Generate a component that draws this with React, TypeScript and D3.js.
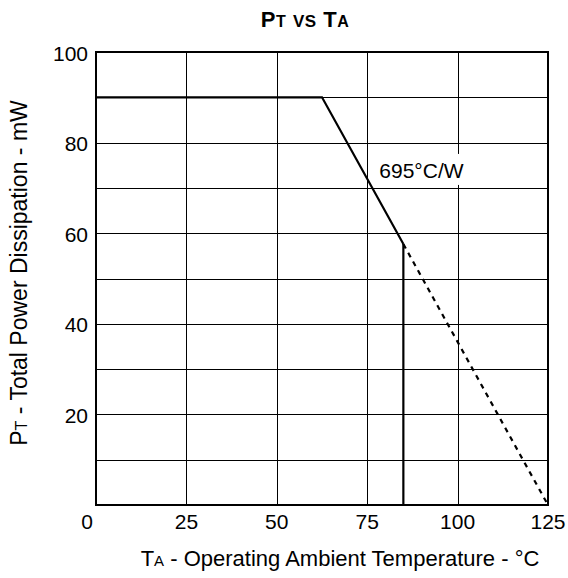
import { useEffect, useRef } from 'react';
import * as d3 from 'd3';

// derating curve: TA (°C) vs PT (mW)
const curveTemps = [0, 62.5, 85];
const curvePower = [90, 90, 57.6];
const dashTemps = [85, 125];
const dashPower = [57.6, 0];
const cutoffTemp = 85;

const xTicks = [0, 25, 50, 75, 100, 125];
const yTicks = [20, 40, 60, 80, 100];
const xGrid = [25, 50, 75, 100];
const yGrid = [10, 20, 30, 40, 50, 60, 70, 80, 90];

const W = 568;
const H = 578;
const FONT = '"Liberation Sans", Arial, sans-serif';

export default function App() {
  const svgRef = useRef<SVGSVGElement>(null);

  useEffect(() => {
    if (!svgRef.current) return;
    const margin = { top: 52, right: 20, bottom: 73, left: 96 };
    const w = W - margin.left - margin.right;
    const h = H - margin.top - margin.bottom;

    const svg = d3.select(svgRef.current);
    svg.selectAll('*').remove();

    const g = svg.append('g').attr('transform', `translate(${margin.left},${margin.top})`);
    const x = d3.scaleLinear().domain([0, 125]).range([0, w]);
    const y = d3.scaleLinear().domain([0, 100]).range([h, 0]);

    // Grid
    g.append('g')
      .selectAll('line')
      .data(yGrid)
      .join('line')
      .attr('x1', 0).attr('x2', w)
      .attr('y1', d => Math.round(y(d)) + 0.5).attr('y2', d => Math.round(y(d)) + 0.5)
      .attr('stroke', '#000')
      .attr('stroke-width', 1);

    g.append('g')
      .selectAll('line')
      .data(xGrid)
      .join('line')
      .attr('x1', d => Math.round(x(d)) + 0.5).attr('x2', d => Math.round(x(d)) + 0.5)
      .attr('y1', 0).attr('y2', h)
      .attr('stroke', '#000')
      .attr('stroke-width', 1);

    // Label with white box
    const lx = x(90);
    const ly = y(72.2);
    g.append('rect')
      .attr('x', lx - 46).attr('y', ly - 24)
      .attr('width', 92).attr('height', 31)
      .attr('fill', '#fff');
    g.append('text')
      .attr('x', lx).attr('y', ly)
      .attr('text-anchor', 'middle')
      .attr('font-family', FONT)
      .attr('font-size', '21px')
      .attr('fill', '#000')
      .text('695°C/W');

    // Curves
    const line = d3.line<[number, number]>().x(d => x(d[0])).y(d => y(d[1]));
    g.append('path')
      .datum(curveTemps.map((t, i) => [t, curvePower[i]] as [number, number]))
      .attr('fill', 'none')
      .attr('stroke', '#000')
      .attr('stroke-width', 2.2)
      .attr('d', line);

    g.append('path')
      .datum(dashTemps.map((t, i) => [t, dashPower[i]] as [number, number]))
      .attr('fill', 'none')
      .attr('stroke', '#000')
      .attr('stroke-width', 2.2)
      .attr('stroke-dasharray', '5,5')
      .attr('d', line);

    g.append('line')
      .attr('x1', x(cutoffTemp)).attr('x2', x(cutoffTemp))
      .attr('y1', y(curvePower[2])).attr('y2', h)
      .attr('stroke', '#000')
      .attr('stroke-width', 2.2);

    // Frame
    g.append('rect')
      .attr('x', 0).attr('y', 0).attr('width', w).attr('height', h)
      .attr('fill', 'none')
      .attr('stroke', '#000')
      .attr('stroke-width', 2);

    // Tick labels ("0" sits left of the corner)
    g.append('g')
      .selectAll('text')
      .data(xTicks)
      .join('text')
      .attr('x', d => x(d) - (d === 0 ? 9 : 0))
      .attr('y', h + 24)
      .attr('text-anchor', 'middle')
      .attr('font-family', FONT)
      .attr('font-size', '21px')
      .text(d => d);

    g.append('g')
      .selectAll('text')
      .data(yTicks)
      .join('text')
      .attr('x', -8)
      .attr('y', d => y(d) + 8.5)
      .attr('text-anchor', 'end')
      .attr('font-family', FONT)
      .attr('font-size', '21px')
      .text(d => d);

    // Title
    const title = svg.append('text')
      .attr('x', 305).attr('y', 27)
      .attr('text-anchor', 'middle')
      .attr('font-family', FONT)
      .attr('font-weight', 'bold')
      .attr('letter-spacing', '0.5px')
      .attr('font-size', '22px');
    title.append('tspan').text('P');
    title.append('tspan').attr('font-size', '16px').text('T');
    title.append('tspan').text(' ');
    title.append('tspan').attr('font-size', '17px').text('VS');
    title.append('tspan').text(' T');
    title.append('tspan').attr('font-size', '16px').text('A');

    // X axis title
    const xt = svg.append('text')
      .attr('x', 340).attr('y', 566)
      .attr('text-anchor', 'middle')
      .attr('font-family', FONT)
      .attr('font-size', '22px');
    xt.append('tspan').text('T');
    xt.append('tspan').attr('font-size', '15px').text('A');
    xt.append('tspan').text(' - Operating Ambient Temperature - °C');

    // Y axis title
    const yt = svg.append('text')
      .attr('transform', `translate(27,273) rotate(-90)`)
      .attr('text-anchor', 'middle')
      .attr('font-family', FONT)
      .attr('font-size', '23px');
    yt.append('tspan').text('P');
    yt.append('tspan').attr('font-size', '16px').text('T');
    yt.append('tspan').text(' - Total Power Dissipation - mW');
  }, []);

  return (
    <svg
      ref={svgRef}
      width={W}
      height={H}
      style={{ position: 'absolute', left: 0, top: 0, background: '#fff' }}
    />
  );
}
